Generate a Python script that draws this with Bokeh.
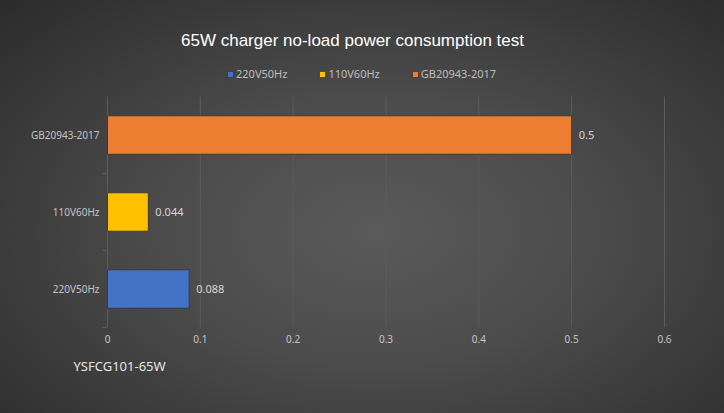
from bokeh.plotting import figure
from bokeh.models import (ColumnDataSource, FixedTicker, Label, Legend,
                          LegendItem, Range1d, Title)
from bokeh.core.properties import value
from bokeh.embed import file_html
from bokeh.resources import INLINE

# data
categories = ["220V50Hz", "110V60Hz", "GB20943-2017"]
power_w = [0.088, 0.044, 0.5]
x_ticks = [0, 0.1, 0.2, 0.3, 0.4, 0.5, 0.6]
x_tick_labels = ["0", "0.1", "0.2", "0.3", "0.4", "0.5", "0.6"]
chart_title = "65W charger no-load power consumption test"
model_name = "YSFCG101-65W"

bar_colors = ["#4472C4", "#FFC000", "#ED7D31"]

FONT = "Noto Sans"
PAD = 0.6 / 557      # one pixel so the 0 and 0.6 grid lines stay visible
ROW_PX = 77          # pixel height of one category row
FRAME_PX = 327       # frame reaches up to the top of the canvas

ypos = list(range(len(categories)))
y_lo = -0.5
y_hi = len(categories) - 0.5

p = figure(width=724, height=413, title=None,
           x_range=Range1d(-PAD, 0.6 + PAD),
           y_range=Range1d(y_lo, y_lo + FRAME_PX / ROW_PX),
           output_backend="svg", toolbar_location=None,
           min_border_left=106, min_border_right=59,
           min_border_top=0, min_border_bottom=86)

# dark radial background behind a transparent canvas
p.styles = {"background": "radial-gradient(ellipse farthest-corner at 52% 56%, "
                          "#5a5a5a 0%, #4c4c4c 40%, #2b2b2b 100%)"}
p.border_fill_alpha = 0
p.background_fill_alpha = 0
p.outline_line_color = None

# vertical grid lines only over the bar area
p.segment(x0=x_ticks, y0=[y_lo] * len(x_ticks), x1=x_ticks,
          y1=[y_hi] * len(x_ticks), line_color="#5c5c5c", line_width=1)

items = []
for yy, cat, val, col in zip(ypos, categories, power_w, bar_colors):
    src = ColumnDataSource(dict(y=[yy], val=[val], txt=["%g" % val]))
    r = p.hbar(y='y', right='val', left=0, height=0.5,
               fill_color=col, line_color="#3a3a3a", line_width=1,
               source=src)
    p.text(x='val', y='y', text='txt', source=src,
           x_offset=7, text_baseline="middle", text_align="left",
           text_font=value(FONT), text_font_size="11px",
           text_color="#d6d6d6")
    items.append(LegendItem(label=cat, renderers=[r]))

# axes
p.xaxis.ticker = FixedTicker(ticks=x_ticks)
p.xaxis.major_label_overrides = dict(zip(x_ticks, x_tick_labels))
p.yaxis.ticker = FixedTicker(ticks=ypos,
                             minor_ticks=[y + 0.5 for y in [y_lo - 0.5] + ypos[:-1]])
p.yaxis.major_label_overrides = dict(zip(ypos, categories))
for ax in (p.xaxis, p.yaxis):
    ax.axis_line_color = None
    ax.major_tick_line_color = None
    ax.major_tick_out = 0
    ax.major_tick_in = 0
    ax.major_label_text_font = FONT
    ax.major_label_text_font_size = "10px"
    ax.major_label_text_color = "#c4c4c4"
p.xaxis.major_label_standoff = 7
p.yaxis.major_label_standoff = 3
p.xaxis.minor_tick_line_color = None
p.yaxis.minor_tick_line_color = "#5c5c5c"
p.yaxis.minor_tick_out = 4
p.yaxis.minor_tick_in = 0

p.grid.grid_line_color = None

# legend and title inside the (tall) frame
lg = Legend(items=items, location=(120, 246), orientation="horizontal",
            glyph_width=8, glyph_height=8, label_standoff=2, spacing=31,
            padding=0, margin=0, label_height=12,
            label_text_font=FONT, label_text_font_size="11px",
            label_text_color="#bdbdbd", border_line_color=None,
            background_fill_alpha=0)
p.add_layout(lg)

p.add_layout(Label(x=246, y=287, x_units="screen", y_units="screen",
                   text=chart_title, text_align="center", text_baseline="middle",
                   text_font="Liberation Sans", text_font_size="17px",
                   text_color="#ffffff"))

# model caption under the axis
p.add_layout(Title(text=model_name, align="left", offset=-33, standoff=18,
                   text_font=FONT, text_font_size="13px",
                   text_font_style="normal", text_color="#e6e6e6"), "below")

open("out.html", "w").write(file_html(p, INLINE))
